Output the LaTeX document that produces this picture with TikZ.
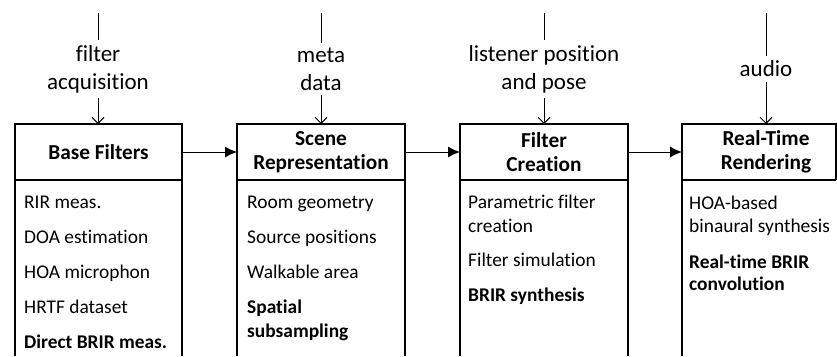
\documentclass[tikz,border=0pt]{standalone}
\usepackage{fontspec}
\setmainfont[Ligatures={NoCommon}]{Carlito}
\usetikzlibrary{arrows.meta}
\begin{document}
\begin{tikzpicture}[x=1pt,y=-1pt,
 boxline/.style={line width=1.5pt},
 divline/.style={line width=2.6pt},
 hdrarea/.style={minimum height=56pt, inner sep=0pt, outer sep=0pt, draw=none},
 title/.style={font=\fontsize{21.3}{24}\selectfont\bfseries, align=center, inner sep=0pt},
 item/.style={font=\fontsize{19.4}{24}\selectfont, anchor=base west, inner sep=0pt},
 bitem/.style={item, font=\fontsize{19.4}{24}\selectfont\bfseries},
 inlabel/.style={font=\fontsize{23}{28}\selectfont, align=center, inner sep=0pt, outer sep=5pt},
 harrow/.style={line width=1pt, -{Latex[length=12pt,width=11pt]}},
 varrow/.style={line width=1pt, -{Straight Barb[length=6pt,width=12pt]}},
 vline/.style={line width=1pt}]
\useasboundingbox (0,0) rectangle (837,356);
\coordinate (bot) at (0,356);

% header areas
\node[hdrarea, minimum width=167pt] (h1) at (98.5,152) {};
\node[hdrarea, minimum width=168pt] (h2) at (321,152) {};
\node[hdrarea, minimum width=168pt] (h3) at (544,152) {};
\node[hdrarea, minimum width=154pt] (h4) at (759,152) {};

% box outlines
\foreach \h in {h1,h2,h3}{
  \draw[boxline] (\h.south west |- bot) -- (\h.north west) -- (\h.north east) -- (\h.south east |- bot);
  \draw[divline] (\h.south west) -- (\h.south east);
}
\draw[boxline] (h4.south west |- bot) -- (h4.north west) -- (h4.north east) -- (h4.south east);
\draw[divline] (h4.south west) -- (h4.south east);

% titles
\node[title] (t1) at (h1.center) {Base Filters};
\node[title] (t2) at (h2.center) {Scene\\Representation};
\node[title] (t3) at (h3.center) {Filter\\Creation};
\node[title] (t4) at (766,152) {Real-Time\\Rendering};

% horizontal arrows
\draw[harrow] (h1.east) -- (h2.west);
\draw[harrow] (h2.east) -- (h3.west);
\draw[harrow] (h3.east) -- (h4.west);

% input labels
\node[inlabel] (l1) at (98,69) {filter\\acquisition};
\node[inlabel] (l2) at (321,69) {meta\\data};
\node[inlabel] (l3) at (544,69) {listener position\\and pose};
\node[inlabel] (l4) at (766,69) {audio};
\coordinate (s1) at (98,13);
\coordinate (s2) at (321,13);
\coordinate (s3) at (544,13);
\coordinate (s4) at (766,13);
\foreach \i in {1,2,3,4}{
  \draw[vline] (s\i) -- (l\i.north);
  \draw[varrow] (l\i.south) -- (l\i.south |- h\i.north);
}

% box 1 items
\node[item] (a1) at (24,208) {RIR meas.};
\node[item] (a2) at (24,243) {DOA estimation};
\node[item] (a3) at (24,278) {HOA microphon};
\node[item] (a4) at (24,313) {HRTF dataset};
\node[bitem] (a5) at (24,348) {Direct BRIR meas.};
% box 2 items
\node[item] (b1) at (247,208) {Room geometry};
\node[item] (b2) at (247,243) {Source positions};
\node[item] (b3) at (247,278) {Walkable area};
\node[bitem] (b4) at (247,313) {Spatial};
\node[bitem] (b5) at (247,337) {subsampling};
% box 3 items
\node[item] (c1) at (468,208) {Parametric filter};
\node[item] (c2) at (468,232) {creation};
\node[item] (c3) at (468,266) {Filter simulation};
\node[bitem] (c4) at (468,301) {BRIR synthesis};
% box 4 items
\node[item] (d1) at (689,209) {HOA-based};
\node[item] (d2) at (689,232) {binaural synthesis};
\node[bitem] (d3) at (689,268) {Real-time BRIR};
\node[bitem] (d4) at (689,290) {convolution};
\end{tikzpicture}
\end{document}
